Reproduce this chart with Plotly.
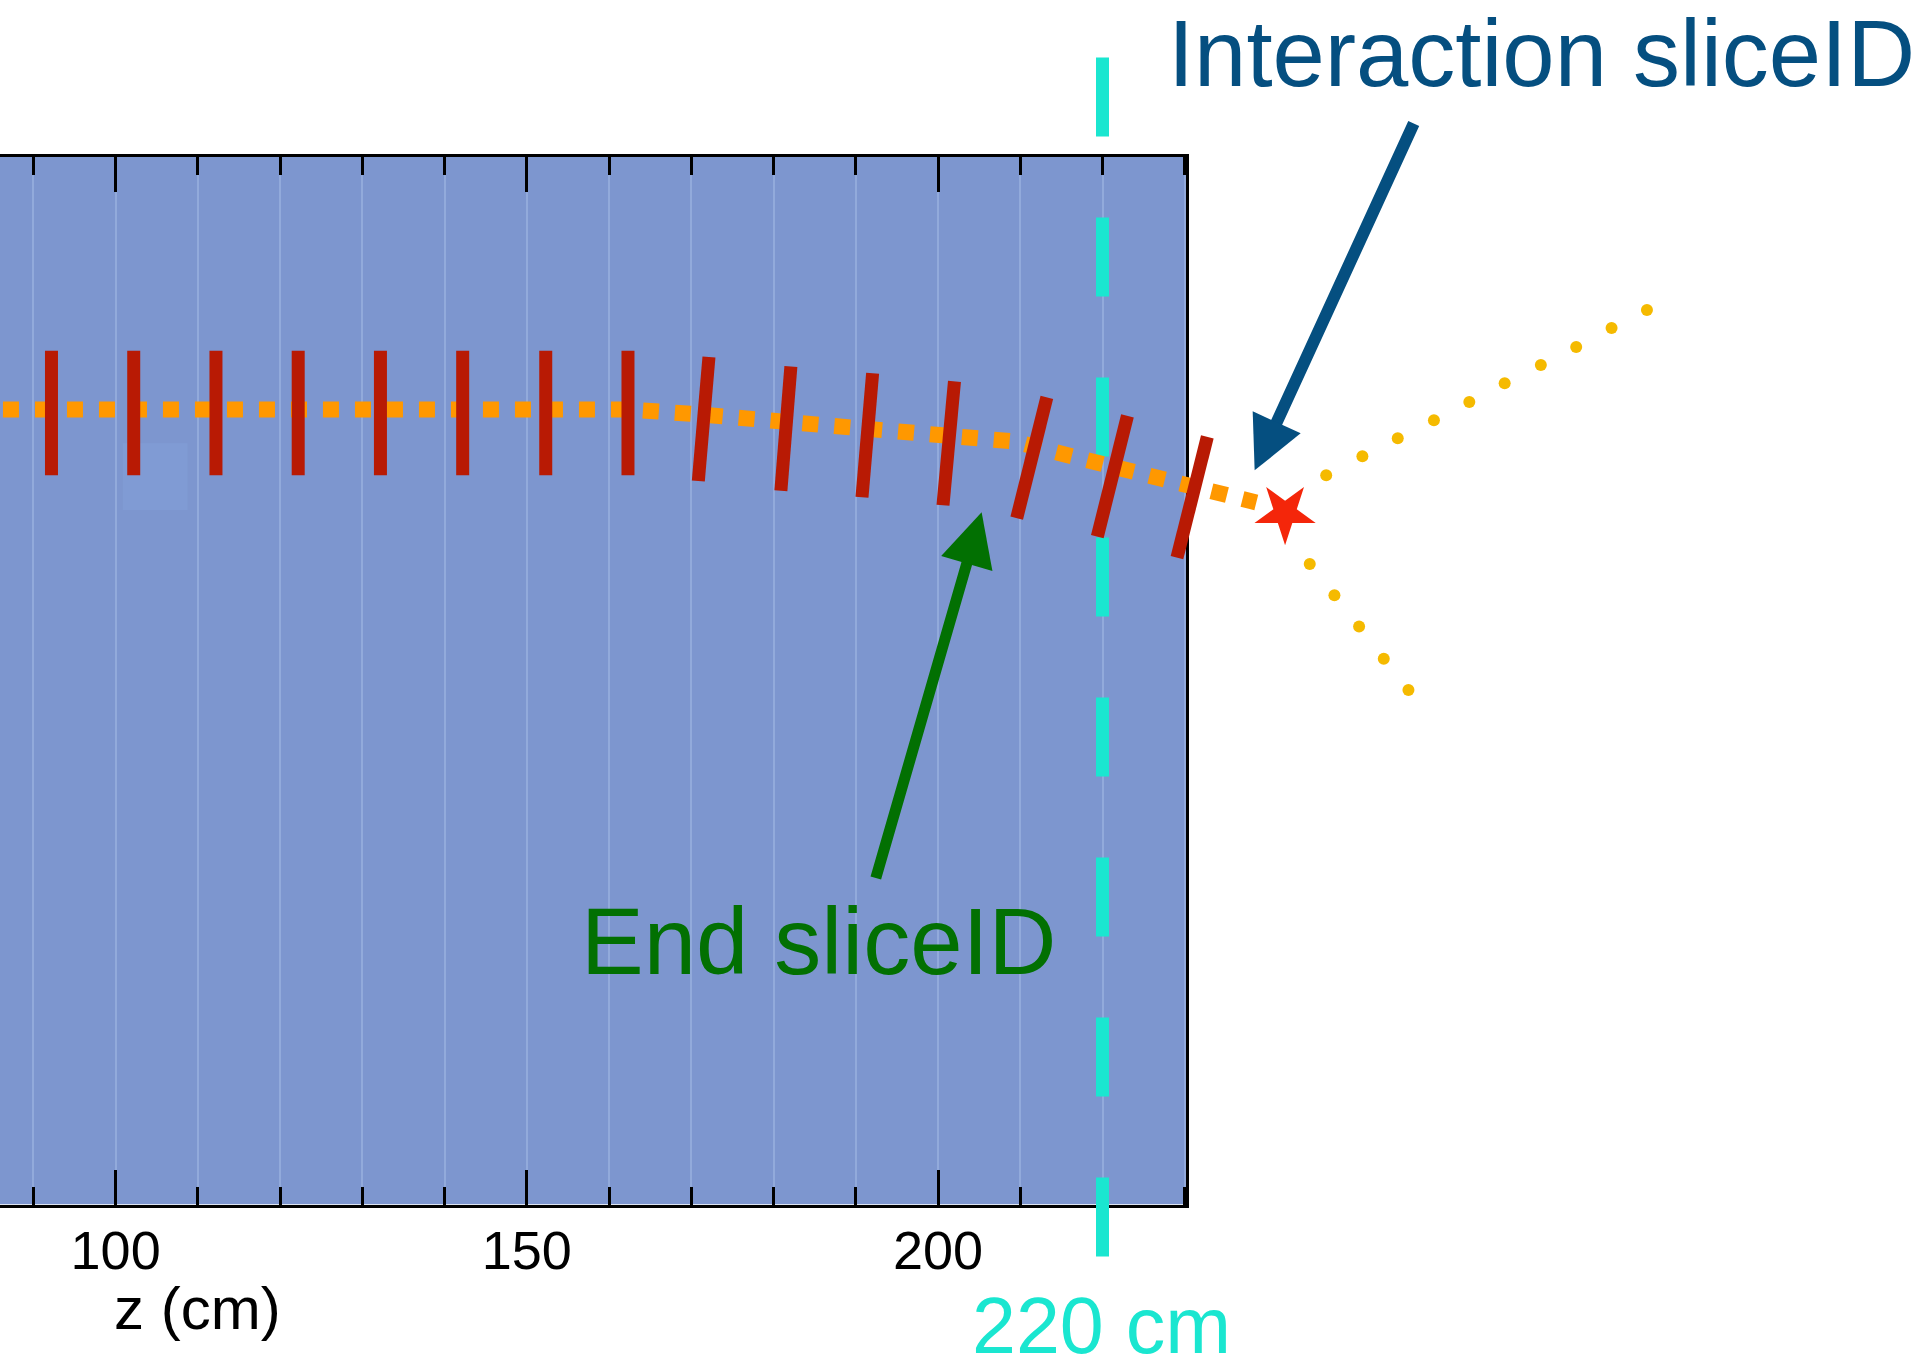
import math
import plotly.graph_objects as go

# ---------------- data (cm) ----------------
# Reconstructed slice positions along the beam: z centre, transverse centre, tilt
slice_z = [92.2, 102.2, 112.2, 122.2, 132.2, 142.2, 152.3, 162.3,
           171.5, 181.5, 191.4, 201.3, 211.4, 221.2, 230.9]
slice_y = [-0.43, -0.43, -0.43, -0.43, -0.43, -0.43, -0.43, -0.43,
           -1.16, -2.33, -3.14, -4.11, -5.87, -8.12, -10.68]
slice_tilt_deg = [0, 0, 0, 0, 0, 0, 0, 0,
                  4.9, 4.6, 4.9, 5.3, 14.0, 14.0, 14.1]

# Beam particle trajectory up to the interaction vertex
track_z = [86.3, 162.5, 171.0, 182.5, 193.9, 201.6, 209.4, 214.7, 226.0, 233.6, 238.7]
track_y = [0.0, 0.0, -0.6, -1.6, -2.4, -3.1, -3.9, -5.3, -8.0, -10.0, -11.3]

# Interaction vertex
vertex_z = [242.2]
vertex_y = [-12.6]

# Secondary tracks leaving the vertex
secondary_a_z = [247.2, 251.6, 255.9, 260.3, 264.6, 268.9, 273.3, 277.6, 281.9, 286.2]
secondary_a_y = [-8.0, -5.7, -3.5, -1.3, 0.9, 3.2, 5.4, 7.6, 9.9, 12.1]
secondary_b_z = [245.2, 248.2, 251.2, 254.2, 257.2]
secondary_b_y = [-18.8, -22.6, -26.4, -30.3, -34.1]

# Fiducial cut
cut_z = 220

# Text
axis_title = "z (cm)"
cut_label = "220 cm"
interaction_label = "Interaction sliceID"
end_label = "End sliceID"

# ---------------- geometry ----------------
FIG_W, FIG_H = 1920, 1371
PX_PER_CM = 8.224
Z_LEFT = 85.94          # z at the left edge of the page
Y_TOP = 49.79           # y at the top edge of the page
BOX_RIGHT_PX = 1186
BOX_TOP_PX = 156.5
BOX_BOTTOM_PX = 1204.5
SLICE_HALF_LEN = 7.57   # cm


def z_at(px):
    return Z_LEFT + px / PX_PER_CM


def y_at(py):
    return Y_TOP - py / PX_PER_CM


box_z = [Z_LEFT, z_at(BOX_RIGHT_PX)]
box_y = [y_at(BOX_BOTTOM_PX), y_at(BOX_TOP_PX)]

# ---------------- colours ----------------
BOX_BLUE = "rgb(125,150,207)"
GRID = "rgb(146,170,219)"
SLICE_RED = "rgb(184,26,4)"
TRACK_ORANGE = "rgb(255,152,0)"
DOT_YELLOW = "rgb(245,186,0)"
STAR_RED = "rgb(244,38,10)"
CYAN = "rgb(26,230,208)"
NAVY = "rgb(5,79,128)"
GREEN = "rgb(2,112,2)"
FONT = "Liberation Sans, Arial, sans-serif"

fig = go.Figure()

# cut line at z = 220 cm
fig.add_trace(go.Scatter(
    x=[cut_z, cut_z], y=[42.8, -103.2], mode="lines",
    line=dict(color=CYAN, width=13, dash="79px,81px"),
    xaxis="x2", yaxis="y2", hoverinfo="skip", showlegend=False))

# beam track
fig.add_trace(go.Scatter(
    x=track_z, y=track_y, mode="lines",
    line=dict(color=TRACK_ORANGE, width=16, dash="16px,16px"),
    xaxis="x2", yaxis="y2", hoverinfo="skip", showlegend=False))

# slices as short tilted segments
sx, sy = [], []
for z, y, t in zip(slice_z, slice_y, slice_tilt_deg):
    a = math.radians(t)
    dz, dy = SLICE_HALF_LEN * math.sin(a), SLICE_HALF_LEN * math.cos(a)
    sx += [z - dz, z + dz, None]
    sy += [y - dy, y + dy, None]
fig.add_trace(go.Scatter(
    x=sx, y=sy, mode="lines", line=dict(color=SLICE_RED, width=13),
    xaxis="x2", yaxis="y2", hoverinfo="skip", showlegend=False))

# secondaries
for zz, yy in ((secondary_a_z, secondary_a_y), (secondary_b_z, secondary_b_y)):
    fig.add_trace(go.Scatter(
        x=zz, y=yy, mode="markers",
        marker=dict(color=DOT_YELLOW, size=12, line=dict(width=0)),
        xaxis="x2", yaxis="y2", hoverinfo="skip", showlegend=False))

# vertex
fig.add_trace(go.Scatter(
    x=vertex_z, y=vertex_y, mode="markers",
    marker=dict(symbol="star", angle=180, size=46, color=STAR_RED, line=dict(width=0)),
    xaxis="x2", yaxis="y2", hoverinfo="skip", showlegend=False))

# detector volume
fig.add_shape(type="rect", xref="x", yref="y", layer="below",
              x0=box_z[0], x1=box_z[1], y0=box_y[0], y1=box_y[1],
              fillcolor=BOX_BLUE, line=dict(width=0))
fig.add_shape(type="rect", xref="x", yref="y", layer="below",
              x0=z_at(122.8), x1=z_at(187.5), y0=y_at(510), y1=y_at(443.3),
              fillcolor="rgb(128,155,212)", line=dict(width=0))

# arrows
fig.add_annotation(x=238.5, y=-7.4, ax=257.9, ay=34.9,
                   xref="x2", yref="y2", axref="x2", ayref="y2",
                   text=" ", font=dict(size=1), borderpad=0,
                   showarrow=True, arrowhead=2, arrowsize=0.88,
                   arrowwidth=12, arrowcolor=NAVY)
fig.add_annotation(x=205.3, y=-12.5, ax=192.4, ay=-57.1,
                   xref="x2", yref="y2", axref="x2", ayref="y2",
                   text=" ", font=dict(size=1), borderpad=0,
                   showarrow=True, arrowhead=2, arrowsize=0.97,
                   arrowwidth=11, arrowcolor=GREEN)

# labels
def label(text, xpx, ypx, size, color):
    fig.add_annotation(text=text, x=xpx / FIG_W, y=1 - ypx / FIG_H,
                       xref="paper", yref="paper", xanchor="center", yanchor="middle",
                       showarrow=False, font=dict(size=size, color=color, family=FONT))


label(interaction_label, 1541, 54, 94, NAVY)
label(end_label, 818.7, 941.4, 94, GREEN)
label(cut_label, 1101.8, 1325, 79, CYAN)
label(axis_title, 197.7, 1308.5, 60, "black")

fig.update_layout(
    width=FIG_W, height=FIG_H,
    margin=dict(l=0, r=0, t=0, b=0),
    paper_bgcolor="white", plot_bgcolor="rgba(0,0,0,0)",
    font=dict(family=FONT, color="black"),
    showlegend=False,
    xaxis=dict(
        domain=[0, BOX_RIGHT_PX / FIG_W], range=box_z, anchor="y",
        showline=True, linecolor="black", linewidth=3, mirror="ticks",
        ticks="inside", tick0=0, dtick=50, ticklen=35, tickwidth=3, tickcolor="black",
        showgrid=True, gridcolor=GRID, gridwidth=2, zeroline=False,
        minor=dict(dtick=10, ticks="inside", ticklen=18, tickwidth=3, tickcolor="black",
                   showgrid=True, gridcolor=GRID, gridwidth=2),
        tickfont=dict(size=54, family=FONT, color="black"),
        ticklabelstandoff=-3,
        fixedrange=True),
    yaxis=dict(
        domain=[1 - BOX_BOTTOM_PX / FIG_H, 1 - BOX_TOP_PX / FIG_H], range=box_y, anchor="x",
        side="right", showline=True, linecolor="black", linewidth=3, mirror=False,
        ticks="", showticklabels=False, showgrid=False, zeroline=False, fixedrange=True),
    xaxis2=dict(domain=[0, 1], range=[Z_LEFT, z_at(FIG_W)], anchor="y2",
                visible=False, fixedrange=True),
    yaxis2=dict(domain=[0, 1], range=[y_at(FIG_H), Y_TOP], anchor="x2",
                visible=False, fixedrange=True),
)

fig.write_html("out.html")
